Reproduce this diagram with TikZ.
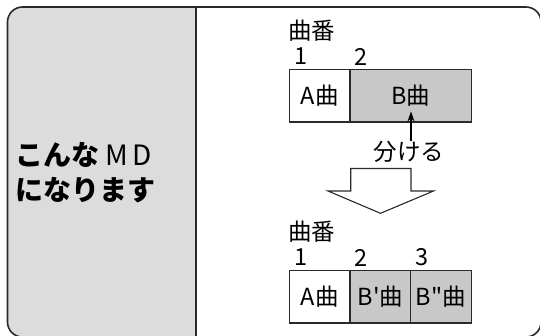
\documentclass[tikz,border=0pt]{standalone}
\usepackage{fontspec}
\setmainfont{Noto Sans CJK JP}[Ligatures=TeXOff]
\usetikzlibrary{arrows.meta}
\definecolor{panelgray}{HTML}{DCDCDC}
\definecolor{cellgray}{HTML}{C8C8C8}
\definecolor{edge}{HTML}{2A2A2A}
\tikzset{
  cell/.style={draw=edge, line width=1.3pt, inner sep=0pt, minimum height=52.7pt, font=\fontsize{23.5}{26}\selectfont},
  whitecell/.style={cell, fill=white},
  graycell/.style={cell, fill=cellgray},
  lbl/.style={inner sep=0pt, font=\fontsize{23.5}{26}\selectfont},
  heading/.style={inner sep=0pt, anchor=west, font=\fontsize{28}{30}\selectfont},
}
\begin{document}
\begin{tikzpicture}[x=1pt, y=-1pt]
\useasboundingbox (0,0) rectangle (540,335);
% left panel fill
\begin{scope}
  \clip (0,0) rectangle (196,340);
  \fill[panelgray, rounded corners=15pt] (7.5,7) rectangle (541,337);
\end{scope}
\draw[edge, line width=1.6pt] (196,7) -- (196,337);
\draw[edge, line width=1.6pt, rounded corners=15pt] (7.5,7) rectangle (541,337);
% left text
\node[heading] (h1) at (15,155) {\bfseries こんな\hspace{6pt}{\mdseries M\hspace{5pt}D}};
\node[heading] (h2) at (15,190) {\bfseries になります};
% top row
\node[lbl, anchor=west] (t1) at (288,31) {曲番};
\node[lbl] (n1) at (301,56.5) {1};
\node[lbl] (n2) at (361,56.5) {2};
\node[whitecell, minimum width=60.7pt] (a) at (319.65,95.5) {A曲};
\node[graycell, minimum width=121.3pt] (b) at (410.65,95.5) {B曲};
% split label and arrow
\coordinate (tip) at (411,111.5);
\node[lbl] (wake) at (409,151.5) {分ける};
\draw[black, line width=1.1pt, -{Stealth[length=10pt, width=7pt]}] (wake.north -| tip) -- (tip);
% block arrow
\draw[edge, line width=1.1pt, fill=white] (350.7,168.5) -- (411,168.5) -- (411,191) -- (433.5,191) -- (380.5,213.3) -- (328,191) -- (350.7,191) -- cycle;
% bottom row
\node[lbl, anchor=west] (t2) at (288,231.5) {曲番};
\node[lbl] (m1) at (301,257.5) {1};
\node[lbl] (m2) at (361,257.5) {2};
\node[lbl] (m3) at (422,257.5) {3};
\node[whitecell, minimum width=60.7pt] (c) at (319.65,296.7) {A曲};
\node[graycell, minimum width=60.7pt] (d) at (380.35,296.7) {B'曲};
\node[graycell, minimum width=60.6pt] (e) at (441,296.7) {B"曲};
\end{tikzpicture}
\end{document}
